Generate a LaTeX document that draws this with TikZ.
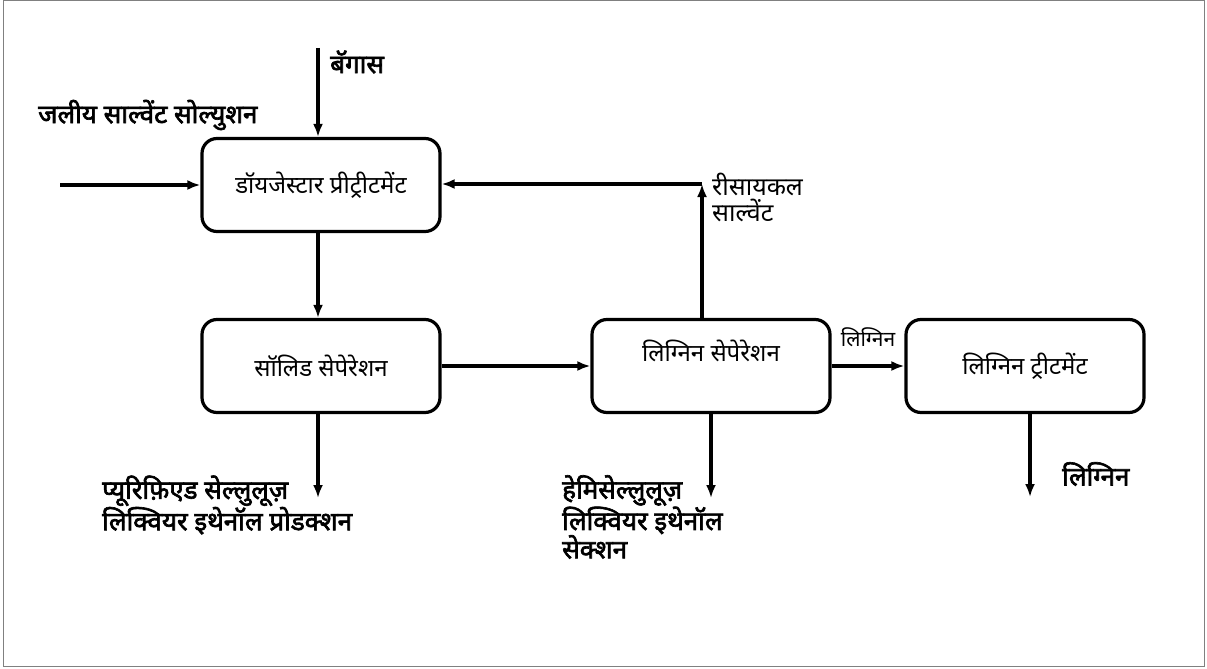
\documentclass[tikz,border=0pt]{standalone}
\usepackage{fontspec}
\newfontfamily\deva[Script=Devanagari]{Noto Sans}
\newfontfamily\devabf[Script=Devanagari, FakeBold=2.5]{Noto Sans}
\usetikzlibrary{positioning, calc, arrows.meta}

\begin{document}
\begin{tikzpicture}[x=1pt, y=-1pt, >={Latex[length=13pt, width=10pt]},
  procbox/.style={draw, line width=3.2pt, rounded corners=15pt, minimum width=238pt, minimum height=93pt, font=\deva\fontsize{24}{26}\selectfont},
  flow/.style={->, line width=3.2pt},
  outlabel/.style={font=\devabf\fontsize{26}{27}\selectfont, align=left, inner sep=0pt},
  thinlabel/.style={font=\deva\fontsize{25}{26}\selectfont, align=left, inner sep=0pt}]
  \useasboundingbox (0,0) rectangle (1207,669);
  \draw [gray, line width=1pt] (3,1) rectangle (1204,666);

  % process boxes
  \node [procbox] (digester) at (321,185) {डॉयजेस्टार प्रीट्रीटमेंट};
  \node [procbox] (solidsep) at (321,366) {सॉलिड सेपेरेशन};
  \node [procbox, text depth=30pt] (ligsep) at (711,366) {लिग्निन सेपेरेशन};
  \node [procbox] (ligtreat) at (1025,366) {लिग्निन ट्रीटमेंट};

  % free ends
  \coordinate (bagin) at (318,48);
  \coordinate (aqin) at (60,185);
  \coordinate (recyc) at (702,184);
  \coordinate (cellout) at (318,498);
  \coordinate (hemiout) at (711,498);
  \coordinate (ligout) at (1030,497);

  % labels
  \node [outlabel, anchor=west] (baglabel) at (330,62) {बॅगास};
  \node [outlabel, anchor=west] (aqlabel) at (38,115) {जलीय साल्वेंट सोल्युशन};
  \node [thinlabel, anchor=west] (recyclabel) at (712,197) {रीसायकल\\साल्वेंट};
  \node [outlabel, anchor=west] (celllabel) at (102,505) {प्यूरिफ़िएड सेल्लुलूज़\\लिक्वियर इथेनॉल प्रोडक्शन};
  \node [outlabel, anchor=west] (hemilabel) at (562,517) {हेमिसेल्लुलूज़\\लिक्वियर इथेनॉल\\सेक्शन};
  \node [outlabel, anchor=west] (liglabel) at (1062,474) {लिग्निन};

  % streams
  \draw [flow] (bagin) -- (digester.north -| bagin);
  \draw [flow] (aqin) -- (digester.west);
  \draw [flow] (digester.south -| bagin) -- (solidsep.north -| bagin);
  \draw [flow] (solidsep) -- (ligsep);
  \draw [flow] (ligsep) -- node [thinlabel, font=\deva\fontsize{21}{22}\selectfont, above=18pt] (ligmid) {लिग्निन} (ligtreat);
  \draw [flow] (ligsep.north -| recyc) -- (recyc);
  \draw [flow] (recyc) -- (recyc -| digester.east);
  \draw [flow] (solidsep.south -| cellout) -- (cellout);
  \draw [flow] (ligsep.south) -- (hemiout);
  \draw [flow] (ligtreat.south -| ligout) -- (ligout);
\end{tikzpicture}
\end{document}
